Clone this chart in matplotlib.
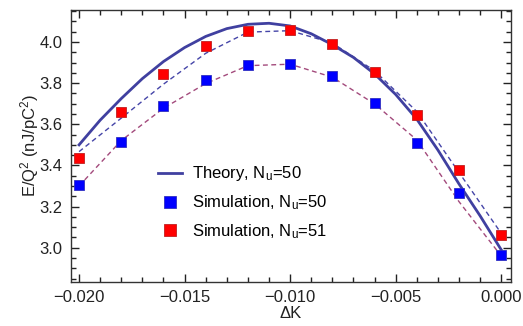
import matplotlib
matplotlib.use("Agg")
import matplotlib.pyplot as plt
from matplotlib.ticker import MultipleLocator

plt.rcParams['font.family'] = ['Liberation Sans', 'DejaVu Sans']
plt.rcParams['mathtext.fontset'] = 'custom'
plt.rcParams['mathtext.rm'] = 'Liberation Sans'
plt.rcParams['mathtext.it'] = 'Liberation Sans:italic'

# detuning values
dk = [-0.020, -0.018, -0.016, -0.014, -0.012, -0.010,
      -0.008, -0.006, -0.004, -0.002, 0.000]

# theory curve (N_u = 50)
dk_theory = [-0.020, -0.019, -0.018, -0.017, -0.016, -0.015, -0.014,
             -0.013, -0.012, -0.011, -0.010, -0.009, -0.008, -0.007,
             -0.006, -0.005, -0.004, -0.003, -0.002, -0.001, 0.000]
e_theory = [3.500, 3.620, 3.725, 3.822, 3.905, 3.973, 4.027,
            4.065, 4.086, 4.091, 4.078, 4.040, 3.987, 3.925,
            3.845, 3.745, 3.625, 3.475, 3.310, 3.155, 2.990]

# simulation points
e_sim50 = [3.304, 3.516, 3.691, 3.817, 3.888, 3.895,
           3.833, 3.704, 3.511, 3.264, 2.966]
e_sim51 = [3.438, 3.660, 3.843, 3.979, 4.053, 4.060,
           3.992, 3.854, 3.647, 3.379, 3.062]

# dashed guides
e_fit51 = [3.467, 3.630, 3.795, 3.945, 4.048, 4.055,
           3.995, 3.860, 3.662, 3.366, 3.070]
e_fit50 = [3.300, 3.521, 3.678, 3.798, 3.885, 3.892,
           3.829, 3.699, 3.524, 3.224, 2.960]

fs = 12

fig = plt.figure(figsize=(5.23, 3.26), dpi=100)
ax = fig.add_axes([0.135, 0.136, 0.8415, 0.833])

ax.plot(dk, e_fit51, '--', color='#4545a8', lw=1.0, dashes=(3.5, 2.5))
ax.plot(dk, e_fit50, '--', color='#a34a7c', lw=1.0, dashes=(3.5, 2.5))
ax.plot(dk_theory, e_theory, '-', color='#4040a0', lw=2.0,
        label='Theory, N$_\\mathregular{u}$=50')
ax.plot(dk, e_sim50, 's', color='#0000ff', mec='#3030c0', mew=0.6, ms=7.3,
        label='Simulation, N$_\\mathregular{u}$=50')
ax.plot(dk, e_sim51, 's', color='#ff0000', mec='#c02020', mew=0.6, ms=7.3,
        label='Simulation, N$_\\mathregular{u}$=51')

ax.set_xlim(-0.0204, 0.00045)
ax.set_ylim(2.835, 4.155)
ax.xaxis.set_major_locator(MultipleLocator(0.005))
ax.xaxis.set_minor_locator(MultipleLocator(0.001))
ax.yaxis.set_major_locator(MultipleLocator(0.2))
ax.yaxis.set_minor_locator(MultipleLocator(0.05))
ax.xaxis.set_major_formatter(matplotlib.ticker.FuncFormatter(
    lambda v, p: ('%.3f' % v).replace('-', '\u2212')))
ax.yaxis.set_major_formatter(matplotlib.ticker.FuncFormatter(
    lambda v, p: '%.1f' % v))

ax.tick_params(which='both', direction='in', top=True, right=True,
               labelsize=fs, colors='#222222', pad=6, width=1.0)
ax.tick_params(which='major', length=6)
ax.tick_params(which='minor', length=3.5)
for s in ax.spines.values():
    s.set_color('#333333')
    s.set_linewidth(1.0)

ax.set_xlabel('\u0394K', fontsize=fs, color='#222222', labelpad=0.5)
ax.set_ylabel('E/Q$^2$ (nJ/pC$^2$)', fontsize=fs, color='#222222', labelpad=-1)

ax.legend(loc='lower left', bbox_to_anchor=(0.165, 0.095), frameon=False,
          fontsize=fs, handlelength=1.45, handletextpad=0.6,
          labelspacing=0.6, markerscale=1.25)

fig.savefig('out.png', dpi=100)
